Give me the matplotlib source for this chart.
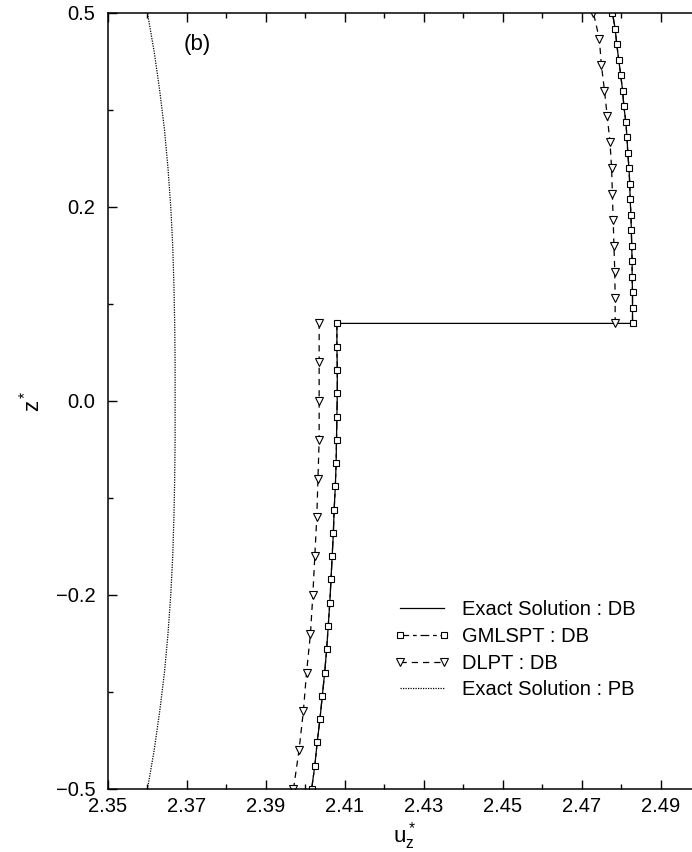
import matplotlib
matplotlib.use("Agg")
import matplotlib.pyplot as plt
from matplotlib.ticker import FixedLocator, MultipleLocator

plt.rcParams['font.family'] = ['Liberation Sans', 'DejaVu Sans']
plt.rcParams['mathtext.fontset'] = 'custom'
plt.rcParams['mathtext.rm'] = 'Liberation Sans'
plt.rcParams['mathtext.it'] = 'Liberation Sans'

# ---- data -------------------------------------------------------------
# lower layer (z from -0.5 to 0.1), GMLSPT / exact sampled every 0.03
z_low_sq = [-0.50, -0.47, -0.44, -0.41, -0.38, -0.35, -0.32, -0.29, -0.26, -0.23,
            -0.20, -0.17, -0.14, -0.11, -0.08, -0.05, -0.02, 0.01, 0.04, 0.07, 0.10]
u_low_exact = [2.4016, 2.4024, 2.4030, 2.4037, 2.4043, 2.4049, 2.4054, 2.4058, 2.4062, 2.4065,
               2.4068, 2.4071, 2.4073, 2.4076, 2.4078, 2.4079, 2.4080, 2.4081, 2.4081, 2.4080, 2.4080]
u_low_gml = [2.4016, 2.4024, 2.4030, 2.4037, 2.4043, 2.4049, 2.4054, 2.4058, 2.4062, 2.4065,
             2.4068, 2.4071, 2.4073, 2.4076, 2.4078, 2.4079, 2.4080, 2.4081, 2.4081, 2.4080, 2.4080]

# upper layer (z from 0.1 to 0.5), sampled every 0.02
z_up_sq = [0.10, 0.12, 0.14, 0.16, 0.18, 0.20, 0.22, 0.24, 0.26, 0.28,
           0.30, 0.32, 0.34, 0.36, 0.38, 0.40, 0.42, 0.44, 0.46, 0.48, 0.50]
u_up_exact = [2.4829, 2.4829, 2.4829, 2.4828, 2.4828, 2.4827, 2.4826, 2.4825, 2.4823, 2.4822,
              2.4820, 2.4817, 2.4815, 2.4812, 2.4807, 2.4804, 2.4799, 2.4794, 2.4789, 2.4785, 2.4778]
u_up_gml = [2.4829, 2.4829, 2.4829, 2.4828, 2.4828, 2.4827, 2.4826, 2.4825, 2.4823, 2.4822,
            2.4820, 2.4817, 2.4815, 2.4812, 2.4807, 2.4804, 2.4799, 2.4794, 2.4789, 2.4785, 2.4778]

# DLPT samples
z_low_tri = [-0.50, -0.45, -0.40, -0.35, -0.30, -0.25, -0.20, -0.15, -0.10, -0.05, 0.00, 0.05, 0.10]
u_low_dlpt = [2.3970, 2.3984, 2.3995, 2.4003, 2.4013, 2.4019, 2.4024, 2.4029, 2.4032, 2.4035,
              2.4035, 2.4035, 2.4035]
z_up_tri = [0.1000, 0.1333, 0.1667, 0.2000, 0.2333, 0.2667, 0.3000, 0.3333, 0.3667, 0.4000,
            0.4333, 0.4667, 0.5000]
u_up_dlpt = [2.4785, 2.4785, 2.4784, 2.4782, 2.4780, 2.4778, 2.4776, 2.4772, 2.4765, 2.4758,
             2.4750, 2.4745, 2.4730]

# exact solution, PB case
z_pb = [-0.50, -0.45, -0.40, -0.35, -0.30, -0.25, -0.20, -0.15, -0.10, -0.05, 0.00,
        0.05, 0.10, 0.15, 0.20, 0.25, 0.30, 0.35, 0.40, 0.45, 0.50]
u_pb = [2.3600, 2.3617, 2.3631, 2.3643, 2.3652, 2.3659, 2.3664, 2.3667, 2.3669, 2.3670, 2.3670,
        2.3670, 2.3669, 2.3667, 2.3664, 2.3659, 2.3652, 2.3643, 2.3631, 2.3617, 2.3600]

x_ticks = [2.35, 2.37, 2.39, 2.41, 2.43, 2.45, 2.47, 2.49]
x_tick_labels = ["2.35", "2.37", "2.39", "2.41", "2.43", "2.45", "2.47", "2.49"]
y_ticks = [-0.5, -0.25, 0.0, 0.25, 0.5]
y_tick_labels = ["\u22120.5", "\u22120.2", "0.0", "0.2", "0.5"]

# ---- figure -----------------------------------------------------------
W, H = 692, 852
fig = plt.figure(figsize=(W / 100, H / 100), dpi=100)
ax = fig.add_axes([108 / W, 63 / H, 592 / W, 776 / H])

lw = 0.9
sq_style = dict(marker='s', markersize=3.8, markerfacecolor='white',
                markeredgecolor='black', markeredgewidth=0.8)
tri_style = dict(marker='v', markersize=6.2, markerfacecolor='white',
                 markeredgecolor='black', markeredgewidth=0.8)

# exact DB: one continuous profile with the jump at the interface
ax.plot(u_low_exact + u_up_exact, z_low_sq + z_up_sq, color='black', lw=lw,
        label='Exact Solution : DB')

gml_ls = (0, (7, 3, 3, 3))
ax.plot(u_low_gml, z_low_sq, color='black', lw=lw, linestyle=gml_ls, **sq_style,
        label='GMLSPT : DB')
ax.plot(u_up_gml, z_up_sq, color='black', lw=lw, linestyle=gml_ls, **sq_style)

dl_ls = (0, (5, 4))
ax.plot(u_low_dlpt, z_low_tri, color='black', lw=lw, linestyle=dl_ls, **tri_style,
        label='DLPT : DB')
ax.plot(u_up_dlpt, z_up_tri, color='black', lw=lw, linestyle=dl_ls, **tri_style)

ax.plot(u_pb, z_pb, color='black', lw=0.9, linestyle=(0, (1, 1)),
        label='Exact Solution : PB')

ax.set_xlim(2.35, 2.50)
ax.set_ylim(-0.5, 0.5)

ax.xaxis.set_major_locator(FixedLocator(x_ticks))
ax.set_xticklabels(x_tick_labels)
ax.xaxis.set_minor_locator(MultipleLocator(0.01))
ax.yaxis.set_major_locator(FixedLocator(y_ticks))
ax.set_yticklabels(y_tick_labels)
ax.yaxis.set_minor_locator(MultipleLocator(0.125))

ax.tick_params(which='both', direction='in', top=True, right=False, width=1.0)
ax.tick_params(which='major', length=6.5, labelsize=14.5)
ax.tick_params(which='minor', length=3.5)
ax.tick_params(axis='x', which='major', pad=6)
ax.tick_params(axis='y', which='major', pad=9)

for s in ax.spines.values():
    s.set_linewidth(1.1)

ax.set_xlabel(r'$\mathregular{u_z^*}$', fontsize=16, labelpad=3)
ax.set_ylabel(r'$\mathregular{z^*}$', fontsize=16, labelpad=8)

ax.text(0.127, 0.959, '(b)', transform=ax.transAxes, fontsize=16, va='center', ha='left')

ax.legend(loc='upper left', bbox_to_anchor=(0.483, 0.243), frameon=False, fontsize=14.5,
          numpoints=2, handlelength=2.8, handletextpad=0.6, labelspacing=0.38,
          borderpad=0, borderaxespad=0)

fig.savefig('out.png', dpi=100)
